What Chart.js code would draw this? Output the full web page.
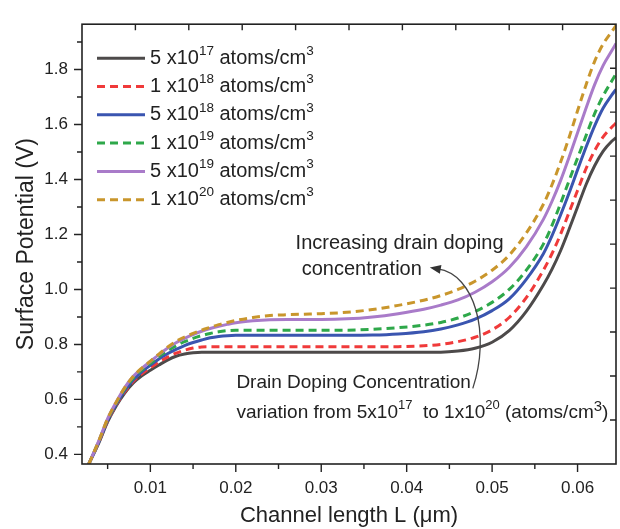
<!DOCTYPE html>
<html>
<head>
<meta charset="utf-8">
<script src="https://cdn.jsdelivr.net/npm/chart.js@4/dist/chart.umd.min.js"></script>
<style>
html,body{margin:0;padding:0;background:#ffffff;}
#wrap{width:620px;height:529px;}
</style>
</head>
<body>
<div id="wrap"><canvas id="c" width="620" height="529"></canvas></div>
<script>
// ---------- data ----------
const channelLength = [0.0028,0.004,0.005,0.006,0.007,0.008,0.009,0.010,0.011,0.012,0.013,0.014,0.015,0.016,
  0.017,0.018,0.019,0.020,0.022,0.024,0.026,0.028,0.030,0.033,0.036,0.039,0.042,0.044,
  0.046,0.048,0.050,0.052,0.054,0.056,0.057,0.058,0.059,0.060,0.061,0.062,0.063,0.064,0.0645];

const phi_5e17 = [0.365,0.444,0.518,0.576,0.623,0.660,0.686,0.706,0.725,0.743,0.757,0.765,0.770,0.772,
  0.772,0.772,0.772,0.772,0.772,0.772,0.772,0.772,0.772,0.772,0.772,0.772,0.772,0.772,
  0.776,0.786,0.808,0.850,0.920,1.016,1.073,1.140,1.218,1.300,1.382,1.450,1.503,1.539,1.552];

const phi_1e18 = [0.365,0.446,0.521,0.579,0.627,0.665,0.693,0.715,0.736,0.754,0.768,0.779,0.787,0.791,
  0.792,0.792,0.792,0.792,0.792,0.792,0.792,0.792,0.792,0.792,0.792,0.792,0.795,0.800,
  0.810,0.826,0.853,0.898,0.970,1.070,1.130,1.200,1.280,1.360,1.440,1.505,1.555,1.590,1.605];

const phi_5e18 = [0.365,0.448,0.524,0.582,0.632,0.671,0.700,0.724,0.747,0.766,0.782,0.796,0.807,0.816,
  0.824,0.829,0.832,0.833,0.833,0.833,0.833,0.833,0.833,0.833,0.834,0.838,0.846,0.856,
  0.871,0.892,0.923,0.966,1.037,1.130,1.195,1.270,1.350,1.435,1.518,1.595,1.660,1.707,1.728];

const phi_1e19 = [0.365,0.450,0.527,0.586,0.638,0.678,0.707,0.731,0.756,0.777,0.795,0.810,0.822,0.832,
  0.840,0.846,0.850,0.852,0.852,0.852,0.852,0.852,0.852,0.852,0.855,0.861,0.870,0.880,
  0.896,0.920,0.953,1.000,1.070,1.165,1.232,1.312,1.395,1.478,1.560,1.640,1.705,1.758,1.785];

const phi_5e19 = [0.365,0.452,0.530,0.590,0.643,0.684,0.713,0.738,0.763,0.786,0.806,0.822,0.836,0.848,
  0.858,0.866,0.873,0.879,0.886,0.890,0.891,0.891,0.891,0.893,0.900,0.912,0.928,0.943,
  0.962,0.990,1.028,1.080,1.155,1.255,1.320,1.395,1.480,1.570,1.660,1.745,1.815,1.868,1.895];

const phi_1e20 = [0.365,0.452,0.530,0.590,0.643,0.684,0.714,0.739,0.765,0.790,0.811,0.827,0.840,0.852,
  0.862,0.872,0.880,0.887,0.898,0.905,0.908,0.910,0.912,0.917,0.927,0.942,0.961,0.978,
  1.000,1.030,1.070,1.125,1.205,1.310,1.380,1.462,1.552,1.650,1.745,1.830,1.893,1.938,1.960];

const seriesLabels = ['5 x10¹⁷ atoms/cm³','1 x10¹⁸ atoms/cm³','5 x10¹⁸ atoms/cm³',
                      '1 x10¹⁹ atoms/cm³','5 x10¹⁹ atoms/cm³','1 x10²⁰ atoms/cm³'];
const labelMantissa = ['5 x10','1 x10','5 x10','1 x10','5 x10','1 x10'];
const labelExponent = ['17','18','18','19','19','20'];

const xTicks = [0.01,0.02,0.03,0.04,0.05,0.06];
const xTickLabels = ['0.01','0.02','0.03','0.04','0.05','0.06'];
const xMinorTicks = [0.005,0.015,0.025,0.035,0.045,0.055];
const yTicks = [0.4,0.6,0.8,1.0,1.2,1.4,1.6,1.8];
const yTickLabels = ['0.4','0.6','0.8','1.0','1.2','1.4','1.6','1.8'];
const yMinorTicks = [0.5,0.7,0.9,1.1,1.3,1.5,1.7,1.9];

const xTitle = 'Channel length L (\u03BCm)';
const yTitle = 'Surface Potential (V)';
const noteUp1 = 'Increasing drain doping';
const noteUp2 = 'concentration';
const noteDown1 = 'Drain Doping Concentration';

// ---------- styling ----------
const FONT = "'Liberation Sans', Arial, Helvetica, sans-serif";
const TXT = '#222222';
const styles = [
  {color:'#4d4a4a', dash:[]},
  {color:'#f03a3a', dash:[8,5]},
  {color:'#3a55b0', dash:[]},
  {color:'#2ea84a', dash:[8,5]},
  {color:'#a97bc9', dash:[]},
  {color:'#c9962c', dash:[8,5]}
];
const allSeries = [phi_5e17, phi_1e18, phi_5e18, phi_1e19, phi_5e19, phi_1e20];

const datasets = allSeries.map((ys, i) => ({
  label: seriesLabels[i],
  data: channelLength.map((x, k) => ({x: x, y: ys[k]})),
  borderColor: styles[i].color,
  backgroundColor: styles[i].color,
  borderDash: styles[i].dash,
  borderWidth: 3,
  pointRadius: 0,
  fill: false,
  cubicInterpolationMode: 'monotone',
  order: 5 - i
}));

function drawRich(ctx, parts, x, y, base) {
  let cx = x;
  parts.forEach(p => {
    const size = p.size || base;
    ctx.font = size + 'px ' + FONT;
    ctx.fillText(p.t, cx, y - (p.rise || 0));
    cx += ctx.measureText(p.t).width;
  });
}

const decor = {
  id: 'decor',
  afterDraw(chart) {
    const {ctx, chartArea: a, scales} = chart;
    const sx = scales.x, sy = scales.y;
    ctx.save();
    // frame
    ctx.strokeStyle = TXT;
    ctx.lineWidth = 1.6;
    ctx.strokeRect(a.left, a.top, a.right - a.left, a.bottom - a.top);
    // ticks
    ctx.lineWidth = 1.4;
    ctx.beginPath();
    xTicks.forEach(v => { const p = sx.getPixelForValue(v); ctx.moveTo(p, a.bottom); ctx.lineTo(p, a.bottom + 8); });
    xMinorTicks.forEach(v => { const p = sx.getPixelForValue(v); ctx.moveTo(p, a.bottom); ctx.lineTo(p, a.bottom + 5); });
    yTicks.forEach(v => { const p = sy.getPixelForValue(v); ctx.moveTo(a.left, p); ctx.lineTo(a.left - 8, p); });
    yMinorTicks.forEach(v => { const p = sy.getPixelForValue(v); if (p >= a.top) { ctx.moveTo(a.left, p); ctx.lineTo(a.left - 5, p); } });
    for (let i = 1; i < 10; i++) {
      const px = a.left + (a.right - a.left) * i / 10;
      ctx.moveTo(px, a.top); ctx.lineTo(px, a.top + 6);
      const py = a.bottom - (a.bottom - a.top) * i / 10;
      ctx.moveTo(a.right, py); ctx.lineTo(a.right - 6, py);
    }
    ctx.stroke();

    // legend
    ctx.textBaseline = 'middle';
    ctx.textAlign = 'left';
    chart.data.datasets.forEach((ds, i) => {
      const ly = a.top + 34 + i * 28.3;
      ctx.beginPath();
      ctx.setLineDash(ds.borderDash);
      ctx.strokeStyle = ds.borderColor;
      ctx.lineWidth = 3;
      ctx.moveTo(a.left + 15, ly);
      ctx.lineTo(a.left + 63, ly);
      ctx.stroke();
      ctx.setLineDash([]);
      ctx.fillStyle = TXT;
      drawRich(ctx, [
        {t: labelMantissa[i]},
        {t: labelExponent[i], size: 13.5, rise: 7},
        {t: ' atoms/cm'},
        {t: '3', size: 13.5, rise: 7}
      ], a.left + 68, ly, 20);
    });

    // annotations (positioned in data coordinates)
    ctx.fillStyle = TXT;
    ctx.font = '20px ' + FONT;
    ctx.fillText(noteUp1, sx.getPixelForValue(0.0270), sy.getPixelForValue(1.1665));
    ctx.fillText(noteUp2, sx.getPixelForValue(0.02772), sy.getPixelForValue(1.071));
    ctx.font = '19px ' + FONT;
    ctx.fillText(noteDown1, sx.getPixelForValue(0.02007), sy.getPixelForValue(0.6614));
    drawRich(ctx, [
      {t: 'variation from 5x10'},
      {t: '17', size: 13, rise: 7},
      {t: '  to 1x10'},
      {t: '20', size: 13, rise: 7},
      {t: ' (atoms/cm'},
      {t: '3', size: 15, rise: 6},
      {t: ')'}
    ], sx.getPixelForValue(0.02007), sy.getPixelForValue(0.5519), 19);

    // curved arrow
    const P = (x, y) => [sx.getPixelForValue(x), sy.getPixelForValue(y)];
    const p0 = P(0.04774, 0.640), c1 = P(0.04985, 0.838), c2 = P(0.04800, 1.055), p3 = P(0.04364, 1.0747);
    const tip = P(0.04271, 1.0800);
    ctx.strokeStyle = '#444';
    ctx.lineWidth = 1.3;
    ctx.beginPath();
    ctx.moveTo(p0[0], p0[1]);
    ctx.bezierCurveTo(c1[0], c1[1], c2[0], c2[1], p3[0], p3[1]);
    ctx.stroke();
    const ang = Math.atan2(tip[1] - p3[1], tip[0] - p3[0]);
    const L = 11, W = 4.5;
    ctx.fillStyle = '#333';
    ctx.beginPath();
    ctx.moveTo(tip[0], tip[1]);
    ctx.lineTo(tip[0] - L * Math.cos(ang) + W * Math.sin(ang), tip[1] - L * Math.sin(ang) - W * Math.cos(ang));
    ctx.lineTo(tip[0] - L * Math.cos(ang) - W * Math.sin(ang), tip[1] - L * Math.sin(ang) + W * Math.cos(ang));
    ctx.closePath();
    ctx.fill();
    ctx.restore();
  }
};

new Chart(document.getElementById('c'), {
  type: 'line',
  data: {datasets: datasets},
  options: {
    responsive: false,
    animation: false,
    devicePixelRatio: 1,
    layout: {padding: {top: 11, right: 4, left: 0, bottom: 0}},
    plugins: {legend: {display: false}, tooltip: {enabled: false}},
    scales: {
      x: {
        type: 'linear', position: 'bottom', min: 0.002, max: 0.0645,
        afterBuildTicks: s => { s.ticks = xTicks.map(v => ({value: v})); },
        afterFit: s => { s.height = 65; },
        grid: {display: false, drawTicks: false},
        border: {display: false},
        ticks: {autoSkip: false, maxRotation: 0, padding: 14, color: TXT,
                font: {family: FONT, size: 17}, callback: (v, i) => xTickLabels[i]},
        title: {display: true, text: xTitle, color: TXT, font: {family: FONT, size: 22},
                padding: {top: 0, bottom: 0}}
      },
      y: {
        type: 'linear', position: 'left', min: 0.365, max: 1.965,
        afterBuildTicks: s => { s.ticks = yTicks.map(v => ({value: v})); },
        afterFit: s => { s.width = 82; },
        grid: {display: false, drawTicks: false},
        border: {display: false},
        ticks: {autoSkip: false, padding: 14, color: TXT,
                font: {family: FONT, size: 17}, callback: (v, i) => yTickLabels[i]},
        title: {display: true, text: yTitle, color: TXT, font: {family: FONT, size: 23},
                padding: {top: 13, bottom: 0}}
      }
    }
  },
  plugins: [decor]
});
</script>
</body>
</html>
